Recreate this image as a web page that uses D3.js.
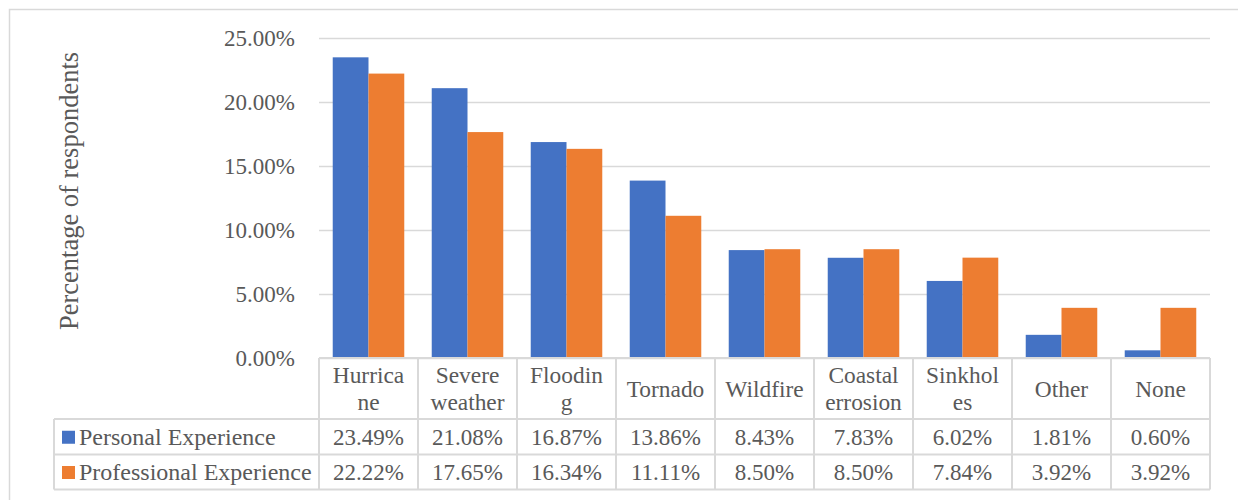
<!DOCTYPE html>
<html>
<head>
<meta charset="utf-8">
<script src="https://cdn.jsdelivr.net/npm/d3@7"></script>
<style>
  html, body { margin: 0; padding: 0; background: #fff; }
  svg { display: block; }
</style>
</head>
<body>
<svg id="chart" width="1238" height="500"></svg>
<script>
// Hazard categories (data keys) and how each header cell wraps
const categories = ["Hurricane", "Severe weather", "Flooding", "Tornado", "Wildfire",
                    "Coastal errosion", "Sinkholes", "Other", "None"];
const headerLines = [["Hurrica", "ne"], ["Severe", "weather"], ["Floodin", "g"], ["Tornado"],
                     ["Wildfire"], ["Coastal", "errosion"], ["Sinkhol", "es"], ["Other"], ["None"]];

// Share of respondents (%) per series
const personal     = [23.49, 21.08, 16.87, 13.86, 8.43, 7.83, 6.02, 1.81, 0.60];
const professional = [22.22, 17.65, 16.34, 11.11, 8.50, 8.50, 7.84, 3.92, 3.92];

const seriesNames  = ["Personal Experience", "Professional Experience"];
const seriesColors = ["#4472C4", "#ED7D31"];
const yTicks = [0, 5, 10, 15, 20, 25];

const FONT = '"Liberation Serif", "Times New Roman", serif';
const TEXT = "#595959";
const gridColor = "#d9d9d9";

const svg = d3.select("#chart");
const label = (sel, size) => sel
  .style("font-family", FONT)
  .style("font-size", size + "px")
  .attr("fill", TEXT);

// Chart frame
svg.append("rect")
  .attr("x", 9.5).attr("y", 9.5)
  .attr("width", 1245).attr("height", 500)
  .attr("fill", "none").attr("stroke", gridColor).attr("stroke-width", 1.5);

const plot = { left: 319, right: 1210, top: 38, bottom: 358 };

const x = d3.scaleBand()
  .domain(categories)
  .range([plot.left, plot.right])
  .paddingInner(0).paddingOuter(0);

const y = d3.scaleLinear()
  .domain([0, 25])
  .range([plot.bottom, plot.top]);

const xSub = d3.scaleBand()
  .domain(seriesNames)
  .range([0, x.bandwidth()])
  .paddingInner(0)
  .paddingOuter(0.3839);

// Gridlines + value axis
const yAxis = d3.axisLeft(y)
  .tickValues(yTicks)
  .tickSize(-(plot.right - plot.left))
  .tickPadding(24)
  .tickFormat(d => d3.format(".2f")(d) + "%");

const gAxis = svg.append("g")
  .attr("transform", `translate(${plot.left},0)`)
  .call(yAxis);
gAxis.select(".domain").remove();
gAxis.selectAll(".tick line").attr("stroke", gridColor).attr("stroke-width", 1.5);
label(gAxis.selectAll(".tick text"), 23);

// Axis title
label(svg.append("text")
  .attr("transform", `translate(78,191) rotate(-90)`)
  .attr("text-anchor", "middle")
  .text("Percentage of respondents"), 26.5);

// Bars
const seriesData = [personal, professional];
const groups = svg.append("g");
categories.forEach((cat, i) => {
  seriesNames.forEach((s, j) => {
    const v = seriesData[j][i];
    groups.append("rect")
      .attr("x", x(cat) + xSub(s))
      .attr("y", y(v))
      .attr("width", xSub.bandwidth())
      .attr("height", y(0) - y(v))
      .attr("fill", seriesColors[j]);
  });
});

// Data table below the plot
const table = { left: 54, headerTop: plot.bottom, row1: 419, row2: 454.5, bottom: 489.5 };
const tg = svg.append("g");
const line = (x1, y1, x2, y2) => tg.append("line")
  .attr("x1", x1).attr("y1", y1).attr("x2", x2).attr("y2", y2)
  .attr("stroke", gridColor).attr("stroke-width", 2);

// horizontal rules
line(plot.left, table.headerTop, plot.right, table.headerTop);
line(table.left, table.row1, plot.right, table.row1);
line(table.left, table.row2, plot.right, table.row2);
line(table.left, table.bottom, plot.right, table.bottom);
// vertical rules
line(table.left, table.row1, table.left, table.bottom);
categories.forEach(cat => line(x(cat), table.headerTop, x(cat), table.bottom));
line(plot.right, table.headerTop, plot.right, table.bottom);

// header cells
categories.forEach((cat, i) => {
  const lines = headerLines[i];
  const cx = x(cat) + x.bandwidth() / 2;
  const mid = (table.headerTop + table.row1) / 2;
  const lh = 27;
  lines.forEach((t, k) => {
    label(tg.append("text")
      .attr("x", cx)
      .attr("y", mid + (k - (lines.length - 1) / 2) * lh)
      .attr("dy", "0.35em")
      .attr("text-anchor", "middle")
      .text(t), 23.4);
  });
});

// series rows
const rowTops = [table.row1, table.row2];
const rowBottoms = [table.row2, table.bottom];
seriesNames.forEach((s, j) => {
  const cy = (rowTops[j] + rowBottoms[j]) / 2;
  tg.append("rect")
    .attr("x", 62).attr("y", cy - 6)
    .attr("width", 13).attr("height", 13)
    .attr("fill", seriesColors[j]);
  label(tg.append("text")
    .attr("x", 79).attr("y", cy).attr("dy", "0.35em")
    .text(s), 24);
  categories.forEach((cat, i) => {
    label(tg.append("text")
      .attr("x", x(cat) + x.bandwidth() / 2)
      .attr("y", cy).attr("dy", "0.35em")
      .attr("text-anchor", "middle")
      .text(d3.format(".2f")(seriesData[j][i]) + "%"), 23);
  });
});
</script>
</body>
</html>
